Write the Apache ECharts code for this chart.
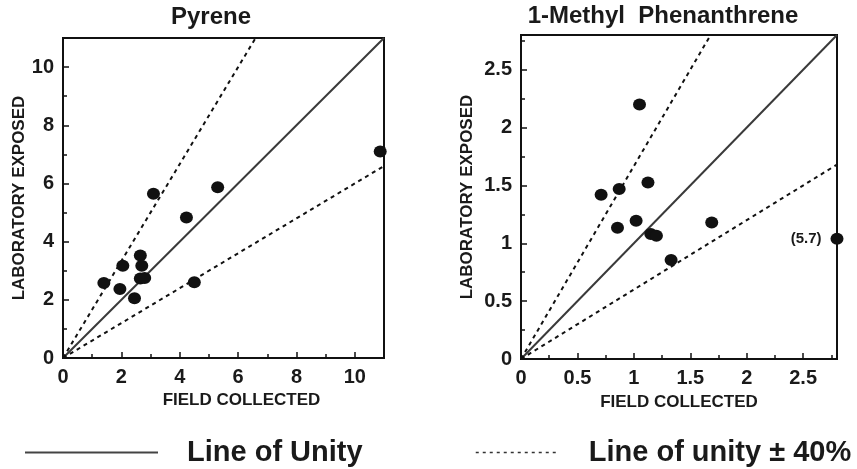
<!DOCTYPE html>
<html>
<head>
<meta charset="utf-8">
<script src="https://cdn.jsdelivr.net/npm/echarts@6/dist/echarts.min.js"></script>
<style>
html,body{margin:0;padding:0;background:#fff;}
#chart{width:857px;height:469px;}
</style>
</head>
<body>
<div id="chart"></div>
<script>
// ---- data ----
const titles = ['Pyrene', '1-Methyl  Phenanthrene'];
const xAxisName = 'FIELD COLLECTED';
const yAxisName = 'LABORATORY EXPOSED';
const legendNames = ['Line of Unity', 'Line of unity \u00B1 40%'];

const pyreneField = [1.4, 1.95, 2.05, 2.45, 2.65, 2.7, 2.65, 2.8, 3.1, 4.23, 4.5, 5.3, 10.87];
const pyreneLab   = [2.58, 2.37, 3.17, 2.05, 3.52, 3.17, 2.73, 2.75, 5.65, 4.83, 2.6, 5.87, 7.1];

const methylField = [0.71, 0.87, 0.855, 1.05, 1.02, 1.125, 1.15, 1.2, 1.33, 1.69, 2.8];
const methylLab   = [1.42, 1.47, 1.135, 2.2, 1.195, 1.525, 1.08, 1.065, 0.855, 1.18, 1.04];
const methylOffscaleIndex = 10;
const methylOffscaleLabel = '(5.7)';

const pyreneAxisMax = 11, pyreneInterval = 2;
const methylAxisMax = 2.8, methylInterval = 0.5;

// reference lines (end points)
const pyreneUnity = [[0, 0], [11, 11]];
const pyreneUpper = [[0, 0], [6.6, 11]];
const pyreneLower = [[0, 0], [11, 6.6]];
const methylUnity = [[0, 0], [2.8, 2.8]];
const methylUpper = [[0, 0], [1.68, 2.8]];
const methylLower = [[0, 0], [2.8, 1.68]];

// ---- chart ----
const FONT = 'Liberation Sans, Arial, Helvetica, sans-serif';
const zip = (a, b) => a.map((v, i) => [v, b[i]]);

function makeAxis(gridIndex, max, interval, opts) {
  return Object.assign({
    type: 'value', gridIndex, min: 0, max, interval,
    splitLine: {show: false},
    axisLine: {show: true, onZero: false, lineStyle: {color: '#111', width: 2}},
    axisTick: {show: true, inside: true, length: 6, lineStyle: {color: '#111', width: 1.5}},
    minorTick: {show: true, splitNumber: 2, length: 4, lineStyle: {color: '#111', width: 1.5}},
    minorSplitLine: {show: false},
    axisLabel: {
      show: true, showMaxLabel: false, margin: 9,
      color: '#1a1a1a', fontFamily: FONT, fontWeight: 'bold', fontSize: 20,
      formatter: v => String(v)
    },
    nameLocation: 'middle',
    nameTextStyle: {color: '#1a1a1a', fontFamily: FONT, fontWeight: 'bold', fontSize: 17}
  }, opts);
}

const unityStyle = {color: '#3a3a3a', width: 2, type: 'solid'};
const dashStyle = {color: '#111', width: 2, type: [4, 4]};

function lineSeries(name, data, idx, style) {
  return {
    type: 'line', name, data, xAxisIndex: idx, yAxisIndex: idx,
    symbol: 'none', lineStyle: style, itemStyle: {color: style.color},
    silent: true, animation: false, z: 2
  };
}

const methylData = zip(methylField, methylLab).map((p, i) => {
  if (i !== methylOffscaleIndex) return p;
  return {
    value: p,
    label: {
      show: true, position: 'left', distance: 9, formatter: methylOffscaleLabel,
      color: '#1a1a1a', fontFamily: FONT, fontWeight: 'bold', fontSize: 15
    }
  };
});

const hiddenSymbol = {color: 'rgba(0,0,0,0)', borderWidth: 0, opacity: 0};

const chart = echarts.init(document.getElementById('chart'));
chart.setOption({
  backgroundColor: '#fff',
  animation: false,
  grid: [
    {left: 63, top: 38, width: 321, height: 320, show: true, borderColor: '#111', borderWidth: 2, backgroundColor: 'transparent'},
    {left: 521, top: 35, width: 316, height: 324, show: true, borderColor: '#111', borderWidth: 2, backgroundColor: 'transparent'}
  ],
  xAxis: [
    makeAxis(0, pyreneAxisMax, pyreneInterval, {
      name: xAxisName, nameGap: 32,
      nameTextStyle: {color: '#1a1a1a', fontFamily: FONT, fontWeight: 'bold', fontSize: 17, padding: [0, 0, 0, 36]}
    }),
    makeAxis(1, methylAxisMax, methylInterval, {name: xAxisName, nameGap: 35})
  ],
  yAxis: [
    makeAxis(0, pyreneAxisMax, pyreneInterval, {name: yAxisName, nameGap: 34}),
    makeAxis(1, methylAxisMax, methylInterval, {name: yAxisName, nameGap: 45})
  ],
  legend: [
    {
      data: [{name: legendNames[0], lineStyle: {width: 2, color: '#444', type: 'solid'}, itemStyle: hiddenSymbol}],
      left: 19, top: 433, itemWidth: 133, itemHeight: 14, selectedMode: false,
      textStyle: {color: '#1a1a1a', fontFamily: FONT, fontWeight: 'bold', fontSize: 29, padding: [0, 0, 6, 24]}
    },
    {
      data: [{name: legendNames[1], lineStyle: {width: 1.5, color: '#333', type: [3, 4]}, itemStyle: hiddenSymbol}],
      left: 470, top: 433, itemWidth: 82, itemHeight: 14, selectedMode: false,
      textStyle: {color: '#1a1a1a', fontFamily: FONT, fontWeight: 'bold', fontSize: 29, padding: [0, 0, 6, 26]}
    }
  ],
  graphic: [
    {type: 'text', x: 211, y: 17, style: {text: titles[0], align: 'center', verticalAlign: 'middle',
      font: 'bold 24px ' + FONT, fill: '#1a1a1a'}},
    {type: 'text', x: 663, y: 16, style: {text: titles[1], align: 'center', verticalAlign: 'middle',
      font: 'bold 24px ' + FONT, fill: '#1a1a1a'}}
  ],
  series: [
    lineSeries(legendNames[0], pyreneUnity, 0, unityStyle),
    lineSeries(legendNames[1], pyreneUpper, 0, dashStyle),
    lineSeries(legendNames[1], pyreneLower, 0, dashStyle),
    lineSeries(legendNames[0], methylUnity, 1, unityStyle),
    lineSeries(legendNames[1], methylUpper, 1, dashStyle),
    lineSeries(legendNames[1], methylLower, 1, dashStyle),
    {
      type: 'scatter', name: titles[0], xAxisIndex: 0, yAxisIndex: 0,
      data: zip(pyreneField, pyreneLab), symbol: 'circle', symbolSize: [13, 12],
      itemStyle: {color: '#111', opacity: 1}, clip: false, z: 3
    },
    {
      type: 'scatter', name: titles[1], xAxisIndex: 1, yAxisIndex: 1,
      data: methylData, symbol: 'circle', symbolSize: [13, 12],
      itemStyle: {color: '#111', opacity: 1}, clip: false, z: 3
    }
  ]
});
</script>
</body>
</html>
